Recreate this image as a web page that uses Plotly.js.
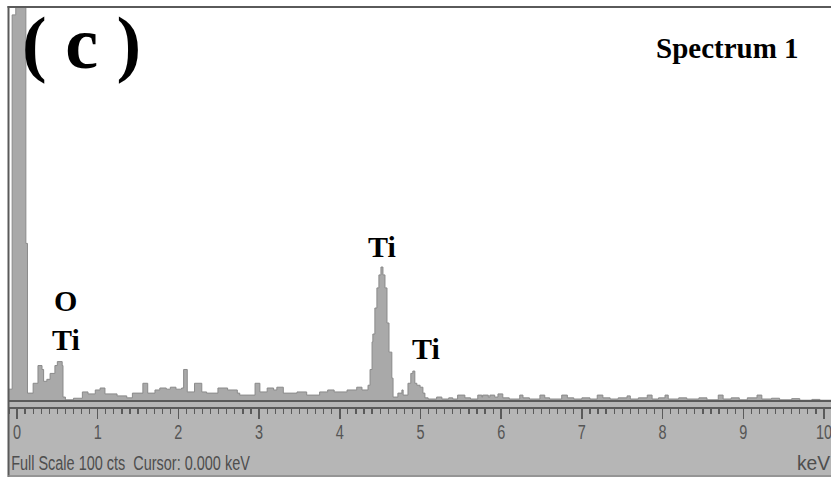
<!DOCTYPE html>
<html>
<head>
<meta charset="utf-8">
<script src="https://cdn.plot.ly/plotly-3.0.1.min.js"></script>
<style>
  html, body { margin: 0; padding: 0; background: #ffffff; }
  #chart { width: 831px; height: 477px; }
</style>
</head>
<body>
<div id="chart"></div>
<script>
// EDS spectrum: step start energy (keV) and counts per step
const energyKeV = [
  -0.10, -0.06, -0.015, 0.11, 0.13, 0.20, 0.26, 0.31, 0.33, 0.37,
  0.41, 0.47, 0.50, 0.56, 0.57, 0.60, 0.70, 0.81, 0.88, 0.97,
  1.03, 1.09, 1.24, 1.36, 1.43, 1.56, 1.62, 1.71, 1.77, 1.85,
  1.90, 1.97, 2.04, 2.065, 2.11, 2.20, 2.29, 2.35, 2.49, 2.61,
  2.73, 2.76, 2.95, 3.01, 3.10, 3.18, 3.22, 3.30, 3.47, 3.59,
  3.75, 3.85, 3.93, 4.09, 4.21, 4.275, 4.35, 4.375, 4.40, 4.41,
  4.435, 4.46, 4.485, 4.51, 4.535, 4.56, 4.585, 4.61, 4.645, 4.66,
  4.72, 4.77, 4.785, 4.845, 4.88, 4.905, 4.93, 4.955, 4.995, 5.03,
  5.055, 5.095, 5.20, 5.265, 5.35, 5.40, 5.46, 5.55, 5.62, 5.71,
  5.76, 5.77, 5.84, 5.86, 5.92, 5.96, 6.02, 6.10, 6.23, 6.27,
  6.35, 6.48, 6.54, 6.60, 6.75, 6.82, 6.90, 7.00, 7.10, 7.19,
  7.26, 7.35, 7.45, 7.56, 7.60, 7.70, 7.81, 7.87, 7.95, 8.03,
  8.07, 8.20, 8.30, 8.45, 8.55, 8.69, 8.75, 8.85, 8.95, 9.05,
  9.17, 9.23, 9.35, 9.45, 9.60, 9.70, 9.85, 9.95, 10.10
];
const counts = [
  3, 98, 130, 40, 2, 4.5, 9, 8, 5, 5.5,
  7, 9, 10, 9, 1, 0.3, 0.7, 2.3, 1.8, 2.8,
  3.3, 1.8, 1.3, 0.8, 2, 4.5, 2, 2.8, 3.3, 3.0,
  3.5, 3.0, 3.3, 8, 2.3, 4.5, 2.3, 2, 3.3, 2.8,
  2, 1.5, 4.5, 2.3, 3.3, 2.8, 3.5, 2, 2.3, 1.5,
  2.3, 2.8, 2.3, 2.8, 3.5, 2.8, 4, 8, 15, 17,
  23.6, 28.7, 32, 34, 32, 28.7, 19.8, 12.4, 5.8, 1,
  2, 2.8, 1.5, 4.5, 7, 7.6, 4.5, 4, 3.5, 2,
  0.8, 0.5, 1, 0.5, 0.8, 0.5, 1.5, 0.8, 0.5, 1.5,
  1.0, 1.5, 1.0, 1.5, 1.0, 1.8, 0.8, 0.5, 1.5, 0.8,
  0.5, 1.5, 0.8, 0.5, 1.5, 0.8, 0.5, 0.8, 0.5, 1.5,
  0.8, 0.5, 0.8, 1.3, 0.5, 0.8, 1.5, 0.5, 0.8, 1.5,
  0.5, 0.8, 0.5, 0.8, 0.3, 1.5, 0.5, 0.8, 0.3, 0.8,
  1.5, 0.5, 0.7, 0.3, 0.6, 0.2, 0.4, 0.2, 0.2
];
const tickValues = [0, 1, 2, 3, 4, 5, 6, 7, 8, 9, 10];
const tickLabels = ["0", "1", "2", "3", "4", "5", "6", "7", "8", "9", "10"];
const peakLabels = ["O", "Ti", "Ti", "Ti"];
const peakLabelKeV = [0.60, 0.61, 4.52, 5.07];
const peakLabelCounts = [25.5, 15.6, 39.2, 13.4];
const panelTitle = "( c )";
const spectrumName = "Spectrum 1";
const statusText = "Full Scale 100 cts  Cursor: 0.000 keV";
const unitText = "keV";

const W = 831, H = 477;
const mL = 9, mR = 0, mT = 7, mB = 70;
const pw = W - mL - mR, ph = H - mT - mB;
const px2paperX = x => (x - mL) / pw;
const px2paperY = y => (H - mB - y) / ph;

const serif = "Liberation Serif, Times New Roman, serif";
const sans = "Liberation Sans, Arial, sans-serif";

const annotations = [];
for (let i = 0; i < peakLabels.length; i++) {
  annotations.push({
    x: peakLabelKeV[i], y: peakLabelCounts[i], xref: "x", yref: "y",
    text: "<b>" + peakLabels[i] + "</b>", showarrow: false,
    xanchor: "center", yanchor: "middle",
    font: { family: serif, size: 30, color: "#000000" }
  });
}
annotations.push({
  x: px2paperX(81), y: px2paperY(43), xref: "paper", yref: "paper",
  text: "<b>" + panelTitle + "</b>", showarrow: false,
  xanchor: "center", yanchor: "middle",
  font: { family: serif, size: 74, color: "#000000" }
});
annotations.push({
  x: px2paperX(727), y: px2paperY(48), xref: "paper", yref: "paper",
  text: "<b>" + spectrumName + "</b>", showarrow: false,
  xanchor: "center", yanchor: "middle",
  font: { family: serif, size: 29, color: "#000000" }
});
annotations.push({
  x: px2paperX(9), y: px2paperY(462), xref: "paper", yref: "paper",
  text: statusText, showarrow: false, xanchor: "left", yanchor: "middle",
  font: { family: sans, size: 21, color: "#4e4e4e" }
});
annotations.push({
  x: px2paperX(832), y: px2paperY(462), xref: "paper", yref: "paper",
  text: unitText, showarrow: false, xanchor: "right", yanchor: "middle",
  font: { family: sans, size: 21, color: "#4e4e4e" }
});

const frameColor = "#5a5a5a";
const shapes = [
  { type: "rect", xref: "paper", yref: "paper", layer: "below",
    x0: px2paperX(9), x1: px2paperX(832), y0: px2paperY(401), y1: px2paperY(478),
    fillcolor: "#b6b6b6", line: { width: 0 } },
  { type: "line", xref: "paper", yref: "paper",
    x0: px2paperX(9), x1: px2paperX(832), y0: px2paperY(401), y1: px2paperY(401),
    line: { color: frameColor, width: 2 } },
  { type: "line", xref: "paper", yref: "paper",
    x0: px2paperX(7.5), x1: px2paperX(832), y0: px2paperY(7), y1: px2paperY(7),
    line: { color: frameColor, width: 2 } },
  { type: "line", xref: "paper", yref: "paper",
    x0: px2paperX(8.5), x1: px2paperX(8.5), y0: px2paperY(6), y1: px2paperY(478),
    line: { color: frameColor, width: 2 } },
  { type: "line", xref: "paper", yref: "paper",
    x0: px2paperX(8), x1: px2paperX(832), y0: px2paperY(476), y1: px2paperY(476),
    line: { color: "#8a8a8a", width: 1.5 } }
];

const trace = {
  x: energyKeV, y: counts, type: "scatter", mode: "lines",
  line: { shape: "hv", color: "#8a8a8a", width: 1 },
  fill: "tozeroy", fillcolor: "#a9a9a9",
  hoverinfo: "skip", showlegend: false
};

const layout = {
  width: W, height: H,
  margin: { l: mL, r: mR, t: mT, b: mB, pad: 0 },
  paper_bgcolor: "#ffffff", plot_bgcolor: "#ffffff",
  showlegend: false,
  xaxis: {
    range: [-0.099, 10.087], anchor: "free", position: 0,
    showgrid: false, zeroline: false,
    showline: true, linecolor: frameColor, linewidth: 1.5,
    ticks: "outside", ticklen: 10, tickwidth: 1.5, tickcolor: frameColor,
    tickmode: "array", tickvals: tickValues, ticktext: tickLabels,
    minor: { dtick: 0.1, tick0: 0, ticks: "outside", ticklen: 5, tickwidth: 1.2, tickcolor: frameColor, showgrid: false },
    tickfont: { family: sans, size: 21, color: "#555555" },
    ticklabelstandoff: -5,
    ticklabeloverflow: "allow",
    fixedrange: true
  },
  yaxis: {
    range: [0, 100], domain: [px2paperY(401), 1],
    visible: false, showgrid: false, zeroline: false, fixedrange: true
  },
  annotations: annotations,
  shapes: shapes
};

// The screenshot font is horizontally condensed: squeeze the sans-serif texts in x only
function squeeze(el, s, anchor) {
  const bb = el.getBBox();
  const cx = anchor === "left" ? bb.x : anchor === "right" ? bb.x + bb.width : bb.x + bb.width / 2;
  const tr = el.getAttribute("transform") || "";
  el.setAttribute("transform", tr + " translate(" + cx + ",0) scale(" + s + ",1) translate(" + (-cx) + ",0)");
}

Plotly.newPlot("chart", [trace], layout, { staticPlot: true, displayModeBar: false }).then(gd => {
  const annTexts = gd.querySelectorAll(".annotation-text");
  let s = 0.72;
  annTexts.forEach(t => {
    if (t.textContent === statusText) {
      const w = t.getBBox().width;
      if (w > 0) s = 239 / w;
    }
  });
  annTexts.forEach(t => {
    if (t.textContent === statusText) squeeze(t, s, "left");
    else if (t.textContent === unitText) squeeze(t, 0.92, "right");
  });
  gd.querySelectorAll(".xtick text").forEach(t => squeeze(t, s, "center"));
});
</script>
</body>
</html>
